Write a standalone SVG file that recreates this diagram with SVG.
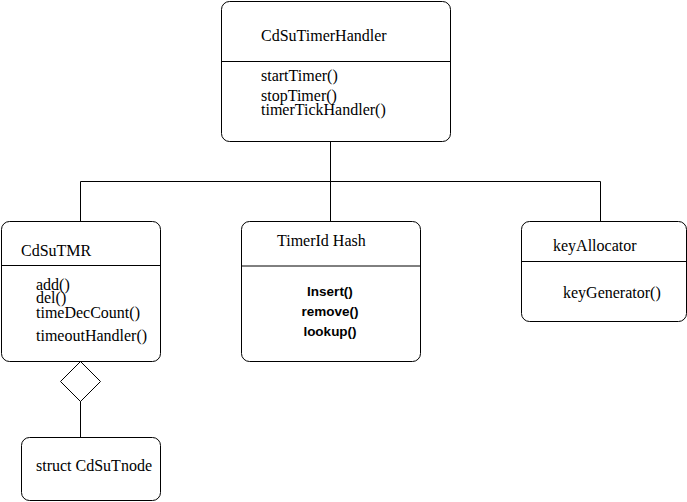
<svg xmlns="http://www.w3.org/2000/svg" width="687" height="502" viewBox="0 0 687 502">
  <style>
    .box { fill: #ffffff; stroke: #000000; stroke-width: 1; }
    .line { fill: none; stroke: #000000; stroke-width: 1; }
    .t { font-family: "Liberation Serif", "Times New Roman", serif; font-size: 16px; fill: #000000; }
    .b { font-family: "Liberation Sans", Arial, sans-serif; font-size: 13.5px; font-weight: bold; fill: #000000; text-anchor: middle; }
  </style>
  <rect width="687" height="502" fill="#ffffff"/>

  <!-- connectors: tree from the handler down to its three parts, and the aggregation diamond -->
  <g id="connectors">
    <path class="line" d="M330.5 141 V181.5 M80.5 181.5 H600.5 M80.5 181.5 V221 M330.5 181.5 V221 M600.5 181.5 V221"/>
    <path class="line" d="M80.5 401 V437"/>
    <polygon class="box" points="80.5,361.5 100.5,381.5 80.5,401.5 60.5,381.5"/>
  </g>

  <g id="CdSuTimerHandler">
    <rect class="box" x="221.5" y="1.5" width="229" height="140" rx="8"/>
    <line class="line" x1="221.5" y1="61.5" x2="450.5" y2="61.5"/>
    <text class="t" x="261" y="41">CdSuTimerHandler</text>
    <text class="t" x="261" y="81">startTimer()</text>
    <text class="t" x="261" y="101">stopTimer()</text>
    <text class="t" x="261" y="115">timerTickHandler()</text>
  </g>

  <g id="CdSuTMR">
    <rect class="box" x="1.5" y="221.5" width="159" height="140" rx="8"/>
    <line class="line" x1="1.5" y1="265.5" x2="160.5" y2="265.5"/>
    <text class="t" x="21" y="256">CdSuTMR</text>
    <text class="t" x="36" y="290">add()</text>
    <text class="t" x="36" y="303">del()</text>
    <text class="t" x="36" y="318">timeDecCount()</text>
    <text class="t" x="36" y="341">timeoutHandler()</text>
  </g>

  <g id="TimerIdHash">
    <rect class="box" x="241.5" y="221.5" width="179" height="140" rx="8"/>
    <line class="line" x1="241.5" y1="266" x2="420.5" y2="266"/>
    <text class="t" x="277" y="246">TimerId Hash</text>
    <text class="b" x="330" y="296">Insert()</text>
    <text class="b" x="330" y="316">remove()</text>
    <text class="b" x="330" y="336">lookup()</text>
  </g>

  <g id="keyAllocator">
    <rect class="box" x="521.5" y="221.5" width="165" height="100" rx="8"/>
    <line class="line" x1="521.5" y1="261.5" x2="686.5" y2="261.5"/>
    <text class="t" x="553" y="251">keyAllocator</text>
    <text class="t" x="563" y="298">keyGenerator()</text>
  </g>

  <g id="CdSuTnode">
    <rect class="box" x="21.5" y="437.5" width="139" height="63" rx="8"/>
    <text class="t" x="36" y="471">struct CdSuTnode</text>
  </g>
</svg>
